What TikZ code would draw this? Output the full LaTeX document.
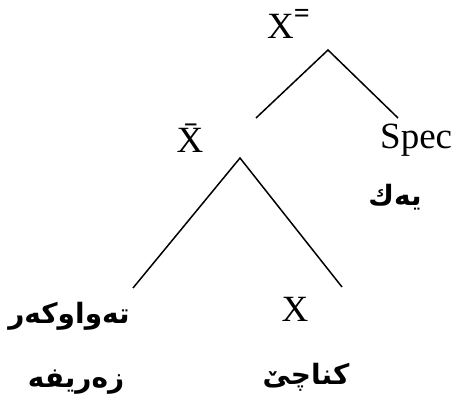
\documentclass[tikz,border=0pt]{standalone}
\usepackage{fontspec}
\setmainfont{Liberation Serif}
\newfontfamily\kurdfont[Script=Arabic]{DejaVu Sans}
\TeXXeTstate=1
\tikzset{
  lbl/.style={font=\fontsize{37}{40}\selectfont, inner sep=0pt},
  krd/.style={font=\kurdfont\bfseries\fontsize{28}{32}\selectfont, inner sep=0pt},
  branch/.style={line width=1.5pt}
}
\begin{document}
\begin{tikzpicture}[x=1pt, y=-1pt]
  \useasboundingbox (0,0) rectangle (461,398);
  % labels of the tree
  \node[lbl, anchor=base west] (xmax) at (267,39) {X\raisebox{16pt}{\fontsize{28}{28}\selectfont\bfseries =}};
  \node[lbl, anchor=base] (xbar) at (190,153) {\=X};
  \node[lbl, anchor=base west] (spec) at (380,149) {Spec};
  \node[krd] (specku) at (395,197) {\beginR يەك\endR};
  \node[lbl, anchor=base] (xhead) at (295,322) {X};
  \node[krd] (compku) at (69,316) {\beginR تەواوکەر\endR};
  \node[krd] (compnote) at (76,382) {\beginR زەریفە\endR};
  \node[krd] (headku) at (306,377) {\beginR کناچێ\endR};
  % branch ends
  \coordinate (topapex) at (328,50);
  \coordinate (topleft) at (256,118);
  \coordinate (topright) at (398,118);
  \coordinate (lowapex) at (240,158);
  \coordinate (lowleft) at (133,288);
  \coordinate (lowright) at (342,287);
  \draw[branch] (topleft) -- (topapex) -- (topright);
  \draw[branch] (lowleft) -- (lowapex) -- (lowright);
\end{tikzpicture}
\end{document}
